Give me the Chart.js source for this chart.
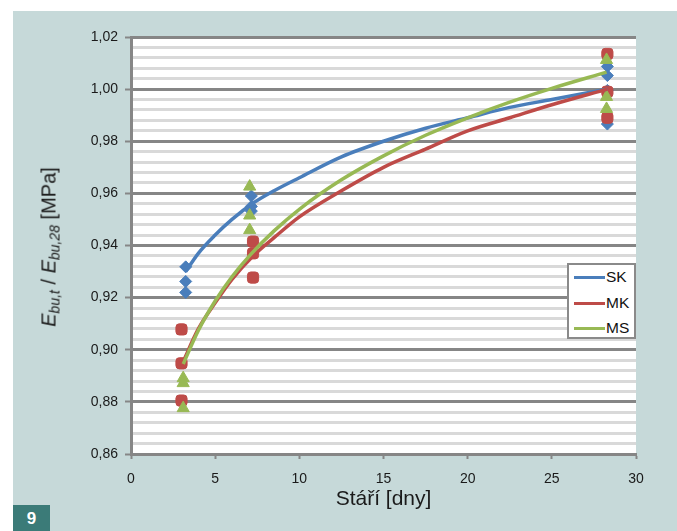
<!DOCTYPE html>
<html>
<head>
<meta charset="utf-8">
<script src="https://cdn.jsdelivr.net/npm/chart.js@4.4.1/dist/chart.umd.min.js"></script>
<style>
    body { margin: 0; background: #ffffff; font-family: 'Liberation Sans', Arial, sans-serif; }
    #wrap { position: relative; width: 677px; height: 531px; overflow: hidden; }
    #panel { position: absolute; left: 13px; top: 11px; right: 0; bottom: 0; background: #c6d9d9; }
    #fig { position: absolute; left: 13px; top: 505px; width: 37px; height: 26px; background: #3b7b78;
        color: #fff; font-weight: bold; font-size: 17px; line-height: 28px; text-align: center; }
    canvas { position: absolute; left: 0; top: 0; }
    #ytitle { position: absolute; left: 50px; top: 247px; transform: translate(-50%, -50%) rotate(-90deg);
        white-space: nowrap; font-size: 20px; color: #1a1a1a; }
    #ytitle sub { font-size: 14px; vertical-align: -4px; }
    #legend { position: absolute; left: 567px; top: 263px; width: 65px; height: 72px; background: #fff;
        border: 2px solid #8a8a8a; }
    .li { position: absolute; left: 5px; height: 16px; font-size: 15.5px; color: #111; }
    .li span { display: inline-block; width: 31px; height: 3px; vertical-align: middle; margin-right: 1px; }
</style>
</head>
<body>
<div id="wrap">
    <div id="panel"></div>
    <canvas id="c" width="677" height="531"></canvas>
    <div id="ytitle"><i>E</i><sub><i>bu,t</i></sub> / <i>E</i><sub><i>bu,28</i></sub> [MPa]</div>
    <div id="legend"></div>
    <div id="fig">9</div>
</div>
<script>
    // measured points (age in days, ratio)
    var skAge = [3.25, 3.25, 3.25, 7.15, 7.15, 7.15, 28.3, 28.3, 28.3, 28.3];
    var skValue = [0.9318, 0.9262, 0.9220, 0.9590, 0.9550, 0.9532, 1.0087, 1.0052, 0.9995, 0.9866];

    var mkAge = [3.0, 3.0, 3.0, 7.25, 7.25, 7.25, 28.3, 28.3, 28.3];
    var mkValue = [0.9078, 0.8948, 0.8805, 0.9415, 0.9370, 0.9277, 1.0135, 0.9990, 0.9890];

    var msAge = [3.1, 3.1, 3.1, 7.05, 7.05, 7.05, 28.25, 28.25, 28.25];
    var msValue = [0.8891, 0.8872, 0.8776, 0.9626, 0.9515, 0.9459, 1.0112, 0.9970, 0.9924];

    // trend curves
    var skTrendAge = [3.25, 4, 5, 6, 7.2, 8.5, 10, 12.5, 15, 17.5, 20, 22.5, 25, 28.3];
    var skTrend = [0.930, 0.937, 0.944, 0.950, 0.956, 0.961, 0.966, 0.974, 0.980, 0.985, 0.989, 0.993, 0.996, 1.000];

    var mkTrendAge = [3.0, 4, 5, 6, 7.25, 8.5, 10, 12.5, 15, 17.5, 20, 22.5, 25, 28.3];
    var mkTrend = [0.894, 0.908, 0.918, 0.927, 0.936, 0.943, 0.951, 0.961, 0.970, 0.977, 0.984, 0.989, 0.994, 1.000];

    var msTrendAge = [3.1, 4, 5, 6, 7.1, 8.5, 10, 12.5, 15, 17.5, 20, 22.5, 25, 28.25];
    var msTrend = [0.8945, 0.9074, 0.9187, 0.9280, 0.9365, 0.9456, 0.9539, 0.9652, 0.9744, 0.9823, 0.9890, 0.9950, 1.0003, 1.0065];

    var seriesNames = ['SK', 'MK', 'MS'];
    var seriesColors = ['#4a7ebb', '#be4b48', '#98b954'];

    function pts(xs, ys) {
        var out = [];
        for (var i = 0; i < xs.length; i++) out.push({ x: xs[i], y: ys[i] });
        return out;
    }

    function trend(name, color, xs, ys, order) {
        return {
            label: name, data: pts(xs, ys), showLine: true, borderColor: color, borderWidth: 3.5,
            pointRadius: 0, cubicInterpolationMode: 'monotone', order: order
        };
    }

    function marks(name, color, xs, ys, style, r, order) {
        return {
            label: name + ' body', data: pts(xs, ys), showLine: false, pointStyle: style, pointRadius: r,
            backgroundColor: color, borderColor: color, borderWidth: 1, order: order
        };
    }

    var font = "'Liberation Sans', Arial, sans-serif";
    var axisGray = '#868686';

    function isMajor(v) { return Math.round(v * 1000) % 20 === 0; }

    var plotBg = {
        id: 'plotBg',
        beforeDraw: function (chart) {
            var a = chart.chartArea, ctx = chart.ctx;
            ctx.save();
            ctx.fillStyle = '#ffffff';
            ctx.fillRect(a.left, a.top, a.right - a.left, a.bottom - a.top);
            ctx.restore();
        }
    };

    var chart = new Chart(document.getElementById('c'), {
        type: 'scatter',
        data: {
            datasets: [
                trend(seriesNames[2], seriesColors[2], msTrendAge, msTrend, 0),
                trend(seriesNames[1], seriesColors[1], mkTrendAge, mkTrend, 1),
                trend(seriesNames[0], seriesColors[0], skTrendAge, skTrend, 2),
                marks(seriesNames[2], seriesColors[2], msAge, msValue, 'triangle', 7, 3),
                marks(seriesNames[1], seriesColors[1], mkAge, mkValue, 'rectRounded', 6.5, 4),
                marks(seriesNames[0], seriesColors[0], skAge, skValue, 'rectRot', 6, 5)
            ]
        },
        options: {
            responsive: false,
            animation: false,
            layout: { padding: { left: 0, right: 41, top: 37, bottom: 0 } },
            plugins: { legend: { display: false }, tooltip: { enabled: false } },
            scales: {
                x: {
                    type: 'linear', min: 0, max: 30,
                    ticks: { stepSize: 5, color: '#1a1a1a', font: { family: font, size: 14 }, padding: 12 },
                    grid: { drawOnChartArea: false, drawTicks: true, tickLength: 5, color: axisGray, tickWidth: 2 },
                    border: { color: axisGray, width: 3 },
                    title: { display: true, text: 'Stáří [dny]', color: '#1a1a1a', font: { family: font, size: 21 }, padding: { top: 0, bottom: 19 } },
                    afterFit: function (s) { s.height = 77; }
                },
                y: {
                    min: 0.86, max: 1.02,
                    ticks: {
                        stepSize: 0.004, autoSkip: false, color: '#1a1a1a', font: { family: font, size: 14 }, padding: 7,
                        callback: function (v) { return isMajor(v) ? v.toFixed(2).replace('.', ',') : ''; }
                    },
                    grid: {
                        color: function (c) { return isMajor(c.tick.value) ? axisGray : '#d9d9d9'; },
                        lineWidth: 3,
                        tickLength: 6, tickWidth: 2,
                        tickColor: function (c) { return isMajor(c.tick.value) ? axisGray : 'rgba(0,0,0,0)'; }
                    },
                    border: { color: axisGray, width: 3 },
                    afterFit: function (s) { s.width = 131; }
                }
            }
        },
        plugins: [plotBg]
    });

    // legend from the trend series
    var lg = document.getElementById('legend');
    for (var i = 0; i < seriesNames.length; i++) {
        var d = document.createElement('div');
        d.className = 'li';
        d.style.top = (3 + i * 25.5) + 'px';
        d.innerHTML = '<span style="background:' + seriesColors[i] + '"></span>' + seriesNames[i];
        lg.appendChild(d);
    }
</script>
</body>
</html>
